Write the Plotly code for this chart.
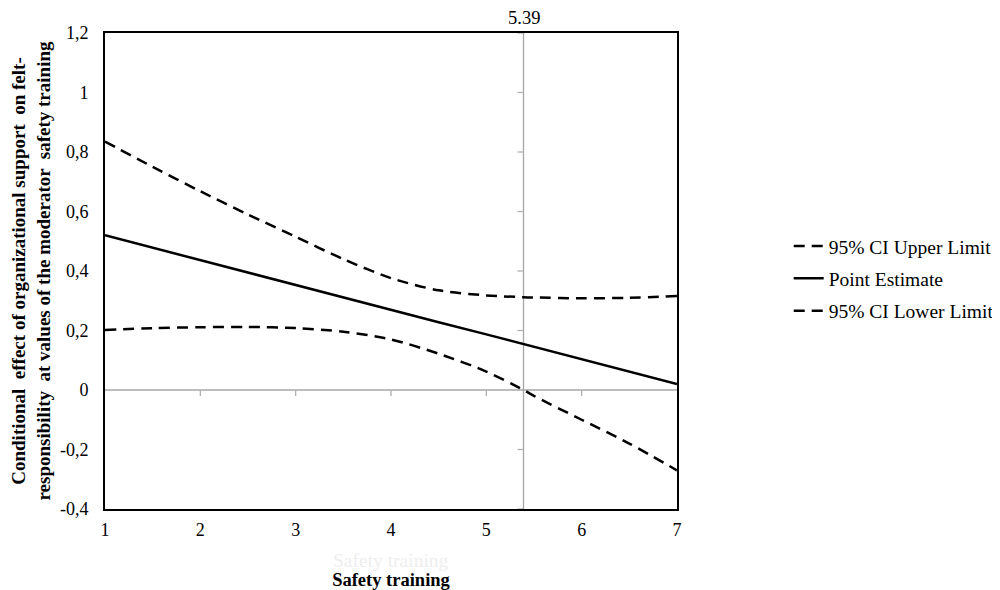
import plotly.graph_objects as go

# ---- data ----
x_vals = [1, 1.5, 2, 2.5, 3, 3.5, 4, 4.5, 5, 5.39, 5.5, 6, 6.5, 7]
upper = [0.835, 0.75, 0.668, 0.59, 0.515, 0.44, 0.376, 0.335, 0.318, 0.312, 0.311, 0.308, 0.310, 0.316]
point = [0.52, 0.478, 0.437, 0.395, 0.353, 0.312, 0.27, 0.228, 0.187, 0.154, 0.145, 0.103, 0.062, 0.02]
lower = [0.202, 0.208, 0.211, 0.212, 0.208, 0.196, 0.170, 0.122, 0.062, 0.0, -0.02, -0.10, -0.18, -0.27]

jn_point = 5.39
jn_label = "5.39"

y_tickvals = [-0.4, -0.2, 0, 0.2, 0.4, 0.6, 0.8, 1.0, 1.2]
y_ticktext = ["-0,4", "-0,2", "0", "0,2", "0,4", "0,6", "0,8", "1", "1,2"]
x_tickvals = [1, 2, 3, 4, 5, 6, 7]

series_names = ["95% CI Upper Limit", "Point Estimate", "95% CI Lower Limit"]

FONT = "Liberation Serif"
DASH = "11px,7px"

fig = go.Figure()
fig.add_trace(go.Scatter(x=x_vals, y=upper, mode="lines", name=series_names[0],
                         legendgroup="u",
                         line=dict(color="black", width=2.5, dash=DASH, shape="spline", smoothing=0.8)))
fig.add_trace(go.Scatter(x=x_vals, y=point, mode="lines", name=series_names[1],
                         legendgroup="p",
                         line=dict(color="black", width=2.5)))
fig.add_trace(go.Scatter(x=x_vals, y=lower, mode="lines", name=series_names[2],
                         legendgroup="l",
                         line=dict(color="black", width=2.5, dash=DASH, shape="spline", smoothing=0.8)))

shapes = []
# horizontal zero reference line
shapes.append(dict(type="line", xref="x domain", yref="y", x0=0, x1=1, y0=0, y1=0,
                   line=dict(color="#bdbdbd", width=2), layer="below"))
# vertical line at the Johnson-Neyman point
shapes.append(dict(type="line", xref="x", yref="y domain", x0=jn_point, x1=jn_point, y0=0, y1=1,
                   line=dict(color="#a6a6a6", width=1.3), layer="below"))
# tick marks on the zero line
for xv in x_tickvals[1:-1]:
    shapes.append(dict(type="line", xref="x", yref="y", ysizemode="pixel",
                       yanchor=0, x0=xv, x1=xv, y0=0, y1=-6,
                       line=dict(color="#b0b0b0", width=1.3), layer="below"))
# tick marks on the vertical line
for yv in y_tickvals:
    if yv == 0:
        continue
    shapes.append(dict(type="line", xref="x", yref="y", xsizemode="pixel", xanchor=jn_point,
                       x0=0, x1=-6, y0=yv, y1=yv,
                       line=dict(color="#b0b0b0", width=1.3), layer="below"))

# page body has an 8px margin: figure is sized/offset to compensate
fig.update_layout(
    width=992, height=582,
    margin=dict(l=97, r=323, t=25, b=81, autoexpand=False),
    paper_bgcolor="white", plot_bgcolor="white",
    font=dict(family=FONT, color="black", size=18),
    showlegend=True,
    legend=dict(xref="container", yref="container", x=0.787, y=0.624,
                xanchor="left", yanchor="top",
                font=dict(family=FONT, size=19.5, color="black"),
                tracegroupgap=4, bgcolor="rgba(0,0,0,0)"),
    shapes=shapes,
    annotations=[
        dict(text=jn_label, x=jn_point, xref="x", y=1, yref="paper", yanchor="middle",
             yshift=15, showarrow=False, font=dict(family=FONT, size=18.5, color="black")),
        dict(text="Safety training", x=0.5, xref="paper", y=0, yref="paper", yanchor="middle",
             yshift=-51, showarrow=False, font=dict(family=FONT, size=19.5, color="#eeeeee")),
    ],
)

fig.update_xaxes(range=[1, 7], tickvals=x_tickvals, ticks="", showgrid=False, zeroline=False,
                 showline=True, linecolor="black", linewidth=2, mirror=True, automargin=False,
                 tickfont=dict(family=FONT, size=18), ticklabelstandoff=3,
                 title=dict(text="<b>Safety training</b>", font=dict(family=FONT, size=18.5), standoff=35))
fig.update_yaxes(range=[-0.4, 1.2], tickvals=y_tickvals, ticktext=y_ticktext, ticks="",
                 showgrid=False, zeroline=False, automargin=False,
                 showline=True, linecolor="black", linewidth=2, mirror=True,
                 tickfont=dict(family=FONT, size=18), ticklabelstandoff=11,
                 title=dict(text="<b>Conditional  effect of organizational support  on felt-<br>responsibility  at values of the moderator  safety training</b>",
                            font=dict(family=FONT, size=19), standoff=11))

fig.write_html("out.html")
